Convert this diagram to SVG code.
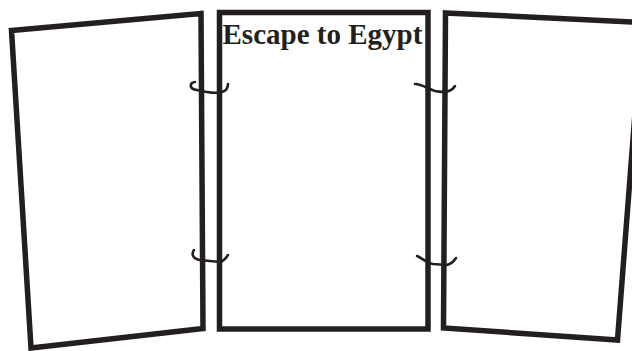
<svg xmlns="http://www.w3.org/2000/svg" width="632" height="351" viewBox="0 0 632 351">
  <style>
    .panel { fill: #ffffff; stroke: #231f20; stroke-width: 5.5; stroke-linejoin: miter; }
    .hinge { fill: none; stroke: #231f20; stroke-width: 2.6; stroke-linecap: round; }
    .title { font-family: "Liberation Serif", "Times New Roman", serif; font-weight: bold; font-size: 29px; fill: #231f20; }
  </style>
  <rect width="632" height="351" fill="#ffffff"/>
  <g id="left-panel">
    <polygon class="panel" points="11.5,30.5 201,13.5 203,328.5 31,348"/>
  </g>
  <g id="center-panel">
    <rect class="panel" x="219.5" y="12.5" width="208.5" height="316.5"/>
    <text class="title" x="222.5" y="43.5">Escape to Egypt</text>
  </g>
  <g id="right-panel">
    <polygon class="panel" points="445.5,13 642,22.5 617.5,340 443.5,328"/>
  </g>
  <g id="connectors">
    <path class="hinge" d="M 195 82 C 189 83, 189 89, 197 90 C 205 92, 215 94, 222 92 C 226 91, 228 88, 228 84"/>
    <path class="hinge" d="M 194 250 C 191 254, 193 259, 200 260 L 220 262 C 224 261, 226 258, 228 255"/>
    <path class="hinge" d="M 415 84 C 422 84, 428 89, 435 91 C 445 93, 452 91, 455 86"/>
    <path class="hinge" d="M 417 256 C 422 258, 427 263, 433 264 L 447 265 C 451 264, 454 261, 456 258"/>
  </g>
</svg>
